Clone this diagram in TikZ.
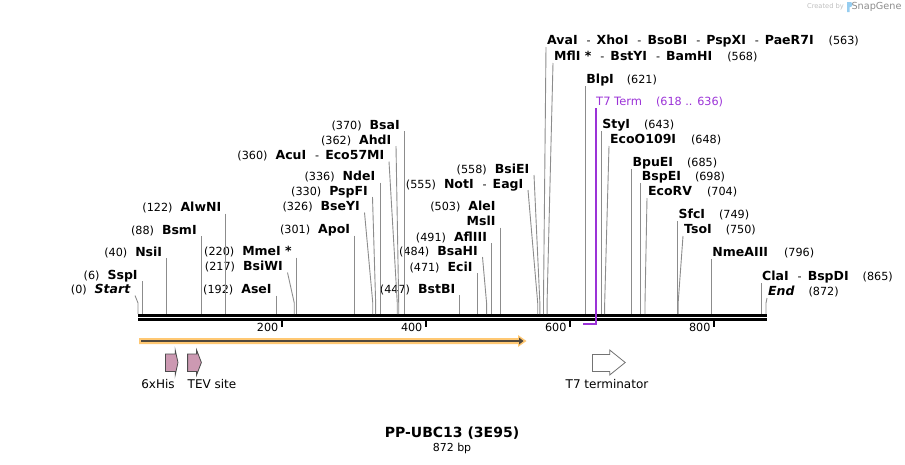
\documentclass[tikz,border=0pt]{standalone}
\usepackage{fontspec}
\setmainfont{DejaVu Sans}
\usetikzlibrary{calc}
\definecolor{leadgray}{RGB}{140,140,140}
\definecolor{orfband}{RGB}{255,200,115}
\definecolor{orfline}{RGB}{80,72,60}
\definecolor{tagpink}{RGB}{204,153,178}
\definecolor{termpurple}{RGB}{155,50,215}
\definecolor{sgblue}{RGB}{150,205,240}
\newcommand{\bpx}[1]{138+0.72018*#1}
\newcommand{\enzn}[1]{{\fontsize{12.5}{14}\selectfont\bfseries #1}}
\newcommand{\enzi}[1]{{\fontsize{12.5}{14}\selectfont\bfseries\itshape #1}}
\newcommand{\bpn}[1]{{\fontsize{11.2}{13}\selectfont #1}}
\newcommand{\dsh}{\hspace{9pt}\bpn{-}\hspace{6pt}}
\tikzset{
  lead/.style={draw=leadgray,line width=0.9pt},
  lsite/.style={anchor=south east,inner xsep=4.5pt,inner ysep=1.5pt,text depth=0pt},
  rsite/.style={anchor=south west,inner xsep=1pt,inner ysep=2pt,text depth=0pt},
  rul/.style={line width=3pt},
  tickm/.style={line width=2pt},
  feat/.style={draw=black!70,line width=0.8pt,fill=tagpink},
  flbl/.style={font=\fontsize{12}{14}\selectfont,inner sep=0pt},
}

\begin{document}
\begin{tikzpicture}[x=1pt,y=-1pt]
  \useasboundingbox (0,0) rectangle (905,464);
  \foreach \p in {0,6,40,88,122,192,217,220,301,326,330,336,360,362,370,447,471,484,491,503,
    555,558,563,568,618,621,636,643,648,685,698,704,749,750,796,865,872}
    \coordinate (c\p) at ({\bpx{\p}},314);
  \coordinate (bend) at (0,303);

  \draw[rul] (138,315.5) -- (766.5,315.5);
  \draw[rul] (138,319.5) -- (766.5,319.5);
  \foreach \t in {200,400,600,800}{
    \draw[tickm] ({\bpx{\t}},321) -- ++(0,6);
    \node[anchor=base east,inner sep=0pt] (t\t) at ({\bpx{\t}-3.5},331) {\bpn{\t}};
  }

  \node[lsite] (start) at (135,295.5) {\bpn{(0)}\hspace{8pt}\enzi{Start}};
  \node[lsite] (sspi) at ({\bpx{6}},281) {\bpn{(6)}\hspace{8pt}\enzn{SspI}};
  \node[lsite] (nsii) at ({\bpx{40}},258) {\bpn{(40)}\hspace{8pt}\enzn{NsiI}};
  \node[lsite] (bsmi) at ({\bpx{88}},236) {\bpn{(88)}\hspace{8pt}\enzn{BsmI}};
  \node[lsite] (alwni) at ({\bpx{122}},213.5) {\bpn{(122)}\hspace{8pt}\enzn{AlwNI}};
  \node[lsite] (asei) at ({\bpx{192}},295.5) {\bpn{(192)}\hspace{8pt}\enzn{AseI}};
  \node[lsite] (bsiwi) at (287.5,272.5) {\bpn{(217)}\hspace{8pt}\enzn{BsiWI}};
  \node[lsite] (mmei) at ({\bpx{220}},257.5) {\bpn{(220)}\hspace{8pt}\enzn{MmeI *}};
  \node[lsite] (apoi) at ({\bpx{301}},235.5) {\bpn{(301)}\hspace{8pt}\enzn{ApoI}};
  \node[lsite] (bseyi) at (364.5,212.5) {\bpn{(326)}\hspace{8pt}\enzn{BseYI}};
  \node[lsite] (pspfi) at (372.5,197) {\bpn{(330)}\hspace{8pt}\enzn{PspFI}};
  \node[lsite] (ndei) at ({\bpx{336}},182.5) {\bpn{(336)}\hspace{8pt}\enzn{NdeI}};
  \node[lsite] (acui) at (389,161.5) {\bpn{(360)}\hspace{8pt}\enzn{AcuI}\dsh\enzn{Eco57MI}};
  \node[lsite] (ahdi) at (396,146) {\bpn{(362)}\hspace{8pt}\enzn{AhdI}};
  \node[lsite] (bsai) at ({\bpx{370}},131) {\bpn{(370)}\hspace{8pt}\enzn{BsaI}};
  \node[lsite] (bstbi) at ({\bpx{447}},295) {\bpn{(447)}\hspace{8pt}\enzn{BstBI}};
  \node[lsite] (ecii) at ({\bpx{471}},273) {\bpn{(471)}\hspace{8pt}\enzn{EciI}};
  \node[lsite] (bsahi) at (482.5,257) {\bpn{(484)}\hspace{8pt}\enzn{BsaHI}};
  \node[lsite] (afliii) at ({\bpx{491}},243) {\bpn{(491)}\hspace{8pt}\enzn{AflIII}};
  \node[lsite] (msli) at ({\bpx{503}},227.5) {\enzn{MslI}};
  \node[lsite] (alei) at ({\bpx{503}},212.5) {\bpn{(503)}\hspace{8pt}\enzn{AleI}};
  \node[lsite] (noti) at (528,190) {\bpn{(555)}\hspace{8pt}\enzn{NotI}\dsh\enzn{EagI}};
  \node[lsite] (bsiei) at (534,175) {\bpn{(558)}\hspace{8pt}\enzn{BsiEI}};

  \node[rsite] (avai) at (546,47) {\enzn{AvaI}\dsh\enzn{XhoI}\dsh\enzn{BsoBI}\dsh\enzn{PspXI}\dsh\enzn{PaeR7I}\hspace{15pt}\bpn{(563)}};
  \node[rsite] (mfli) at (553,63) {\enzn{MflI *}\dsh\enzn{BstYI}\dsh\enzn{BamHI}\hspace{15pt}\bpn{(568)}};
  \node[rsite] (blpi) at ({\bpx{621}},86) {\enzn{BlpI}\hspace{13pt}\bpn{(621)}};
  \node[rsite,text=termpurple,inner xsep=0pt] (t7term) at ({\bpx{636}},108)
    {{\fontsize{11.5}{13}\selectfont T7 Term}\hspace{14pt}\bpn{(618 .. 636)}};
  \node[rsite] (styi) at ({\bpx{643}},131) {\enzn{StyI}\hspace{14pt}\bpn{(643)}};
  \node[rsite] (ecooi) at (609,146) {\enzn{EcoO109I}\hspace{15pt}\bpn{(648)}};
  \node[rsite] (bpuei) at ({\bpx{685}},169) {\enzn{BpuEI}\hspace{14pt}\bpn{(685)}};
  \node[rsite] (bspei) at ({\bpx{698}},183) {\enzn{BspEI}\hspace{14pt}\bpn{(698)}};
  \node[rsite] (ecorv) at (647,198) {\enzn{EcoRV}\hspace{15pt}\bpn{(704)}};
  \node[rsite] (sfci) at ({\bpx{749}},221) {\enzn{SfcI}\hspace{14pt}\bpn{(749)}};
  \node[rsite] (tsoi) at (683,236) {\enzn{TsoI}\hspace{14pt}\bpn{(750)}};
  \node[rsite] (nmeaiii) at ({\bpx{796}},259) {\enzn{NmeAIII}\hspace{16pt}\bpn{(796)}};
  \node[rsite] (clai) at ({\bpx{865}},283) {\enzn{ClaI}\dsh\enzn{BspDI}\hspace{14pt}\bpn{(865)}};
  \node[rsite] (endl) at (767,298) {\enzi{End}\hspace{14pt}\bpn{(872)}};

  \draw[lead] (start.south east) -- (bend -| c0) -- (c0);
  \draw[lead] (sspi.south east) -- (c6);
  \draw[lead] (nsii.south east) -- (c40);
  \draw[lead] (bsmi.south east) -- (c88);
  \draw[lead] (alwni.south east) -- (c122);
  \draw[lead] (asei.south east) -- (c192);
  \draw[lead] (bsiwi.south east) -- (bend -| c217) -- (c217);
  \draw[lead] (mmei.south east) -- (c220);
  \draw[lead] (apoi.south east) -- (c301);
  \draw[lead] (bseyi.south east) -- (bend -| c326) -- (c326);
  \draw[lead] (pspfi.south east) -- (bend -| c330) -- (c330);
  \draw[lead] (ndei.south east) -- (c336);
  \draw[lead] (acui.south east) -- (bend -| c360) -- (c360);
  \draw[lead] (ahdi.south east) -- (bend -| c362) -- (c362);
  \draw[lead] (bsai.south east) -- (c370);
  \draw[lead] (bstbi.south east) -- (c447);
  \draw[lead] (ecii.south east) -- (c471);
  \draw[lead] (bsahi.south east) -- (bend -| c484) -- (c484);
  \draw[lead] (afliii.south east) -- (c491);
  \draw[lead] (msli.south east) -- (c503);
  \draw[lead] (noti.south east) -- (bend -| c555) -- (c555);
  \draw[lead] (bsiei.south east) -- (bend -| c558) -- (c558);
  \draw[lead] (avai.south west) -- (bend -| c563) -- (c563);
  \draw[lead] (mfli.south west) -- (bend -| c568) -- (c568);
  \draw[lead] (blpi.south west) -- (c621);
  \draw[lead] (styi.south west) -- (c643);
  \draw[lead] (ecooi.south west) -- (bend -| c648) -- (c648);
  \draw[lead] (bpuei.south west) -- (c685);
  \draw[lead] (bspei.south west) -- (c698);
  \draw[lead] (ecorv.south west) -- (bend -| c704) -- (c704);
  \draw[lead] (sfci.south west) -- (c749);
  \draw[lead] (tsoi.south west) -- (bend -| c750) -- (c750);
  \draw[lead] (nmeaiii.south west) -- (c796);
  \draw[lead] (clai.south west) -- (c865);
  \draw[lead] (endl.south west) -- (bend -| c872) -- (c872);
  \draw[termpurple,line width=1.3pt] (t7term.south west) -- (c636 |- 0,324) -- (c618 |- 0,324);

  \fill[orfband] (139,338) -- (518,338) -- (518,335) -- (526.5,341) -- (518,347) -- (518,344) -- (139,344) -- cycle;
  \draw[orfline,line width=2.2pt] (141,341) -- (520,341);
  \fill[orfline] (519,337.5) -- (523.5,341) -- (519,344.5) -- cycle;

  \draw[feat] (165.5,354) -- (175.2,354) -- (175.2,350) -- (178,362.5) -- (175.2,375) -- (175.2,371.5) -- (165.5,371.5) -- cycle;
  \draw[feat] (187.6,354) -- (196.6,354) -- (196.6,350) -- (201.4,362.5) -- (196.6,375) -- (196.6,371.5) -- (187.6,371.5) -- cycle;
  \draw[feat,draw=black!55,fill=white] (592.4,354.5) -- (609.7,354.5) -- (609.7,350) -- (625.2,362.5) -- (609.7,375) -- (609.7,371.5) -- (592.4,371.5) -- cycle;
  \node[flbl] (hislbl) at (158,384) {6xHis};
  \node[flbl] (tevlbl) at (212,384) {TEV site};
  \node[flbl] (t7lbl) at (607,384) {T7 terminator};

  \node[inner sep=0pt,font=\fontsize{14}{16}\selectfont\bfseries] (title) at (452,433) {PP-UBC13 (3E95)};
  \node[inner sep=0pt,font=\fontsize{11}{13}\selectfont] (size) at (452,448) {872 bp};

  \node[inner sep=0pt,text=black!25,font=\fontsize{6.7}{8}\selectfont] (sgby) at (825.5,7) {Created by};
  \fill[sgblue] (847,2) -- (850.5,2) .. controls (853,2) and (853,7) .. (850.5,7) -- (849.5,7) -- (849.5,12) -- (847,12) -- cycle;
  \node[inner sep=0pt,text=black!45,font=\fontsize{9.7}{11}\selectfont] (sgname) at (876.5,7) {SnapGene};
\end{tikzpicture}
\end{document}
